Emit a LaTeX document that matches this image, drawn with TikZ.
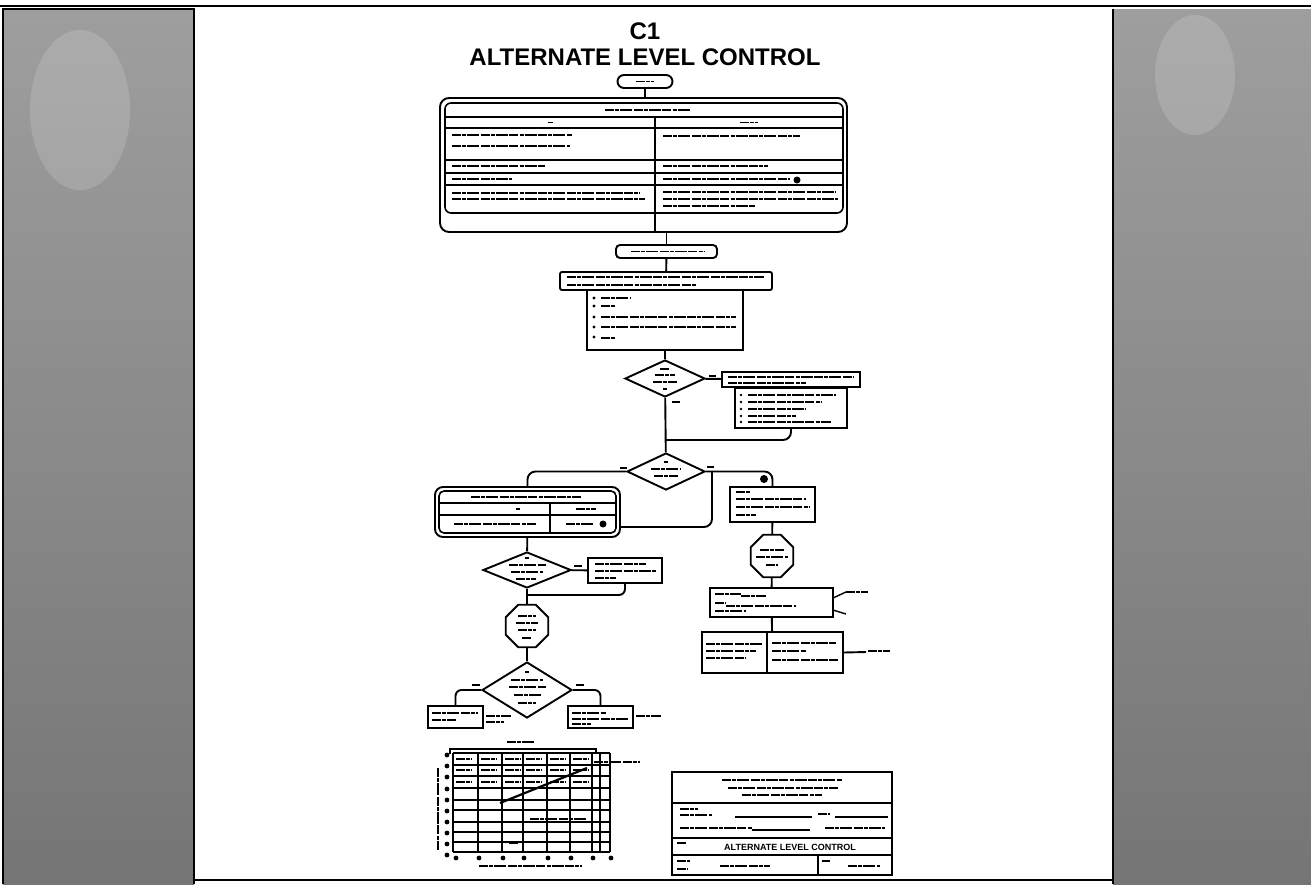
\documentclass[tikz,border=0pt]{standalone}
\usepackage{fontspec}
\setmainfont{Liberation Sans}
\usetikzlibrary{shapes.geometric}

% blurred copy text is drawn as dark strokes
\newcommand{\smear}[3]{\draw[smudge] (#1,#2) -- (#3,#2);}
\newcommand{\smeart}[3]{\draw[smudge,line width=1.8pt] (#1,#2) -- (#3,#2);}

\tikzset{
  flow/.style={line width=1.9pt},
  stepbox/.style={draw, line width=1.9pt, fill=white, inner sep=0pt},
  roundbox/.style={stepbox, rounded corners=6pt},
  decision/.style={stepbox, diamond},
  hold/.style={stepbox, regular polygon, regular polygon sides=8},
  smudge/.style={line width=2.6pt, black, dash pattern=on 9pt off 1.2pt on 4pt off 1pt on 12pt off 1.5pt},
  gridrule/.style={line width=2pt},
  panel/.style={top color=black!38, bottom color=black!54},
  headfont/.style={font=\bfseries\fontsize{24}{26}\selectfont},
}

\begin{document}
\begin{tikzpicture}[x=1pt,y=-1pt]
\useasboundingbox (0,0) rectangle (1311,884);

% side panels and frame
\shade[panel] (3,9) rectangle (194,884);
\shade[panel] (1113,9) rectangle (1311,884);
\fill[white,opacity=0.15] (80,110) ellipse (50 and 80);
\fill[white,opacity=0.15] (1195,75) ellipse (40 and 60);
\draw[line width=2pt] (3,884) -- (3,9) -- (194,9) -- (194,884);
\draw[line width=2pt] (1113,884) -- (1113,9);
\draw[line width=2pt] (0,6) -- (1311,6);
\draw[line width=2pt] (194,880) -- (1113,880);

% heading
\node[headfont] (code) at (645,31) {C1};
\node[headfont] (title) at (645,57) {ALTERNATE LEVEL CONTROL};

% main column
\node[roundbox, rounded corners=6.5pt, minimum width=55pt, minimum height=13pt] (start) at (645,81.5) {};
\smeart{636}{81.5}{654}

\node[roundbox, rounded corners=9pt, minimum width=407pt, minimum height=134pt] (rules) at (643.5,165) {};
\draw[line width=1.6pt, rounded corners=6pt] (445,103) rectangle (843,213);
\foreach \y in {117,128,160,173,185}
    \draw[line width=1.6pt] (445,\y) -- (843,\y);
\draw[line width=1.6pt] (655,117) -- (655,232);
\smeart{605}{110}{690}
\smeart{548}{122.5}{553} \smeart{740}{122.5}{758}
\smear{452}{135}{572} \smear{452}{146}{570} \smear{663}{136}{800}
\smear{452}{166}{545} \smear{663}{166}{768}
\smear{452}{179}{512} \smear{663}{179}{790}
\fill (797,180) circle (3.5);
\smear{452}{193}{640} \smear{452}{199}{645}
\smear{663}{192}{836} \smear{663}{199}{838} \smear{663}{206}{755}
\draw[flow] (start) -- (start |- rules.north);

\node[roundbox, rounded corners=4pt, minimum width=101pt, minimum height=13pt] (verify) at (666.5,251.5) {};
\smeart{631}{251.5}{704}
\draw[flow] (rules.south -| verify) -- (verify);

\node[stepbox, minimum width=156pt, minimum height=60pt] (checks) at (665,320) {};
\node[stepbox, rounded corners=2pt, minimum width=212pt, minimum height=18pt] (goto) at (666,281) {};
\smear{567}{277}{764} \smear{567}{285}{696}
\draw[flow] (verify) -- (goto);
\foreach \y in {298,306,317,327,337}
    \fill (594,\y) circle (1.6);
\smeart{601}{298}{630} \smear{601}{306}{615} \smear{601}{317}{736}
\smear{601}{327}{736} \smear{601}{338}{615}

\node[decision, minimum width=80pt, minimum height=37pt] (level) at (665,378.5) {};
\smeart{660}{369}{670} \smeart{655}{375}{675} \smear{653}{382}{677} \smeart{663}{389}{667}
\draw[flow] (checks) -- (level);
\smeart{709}{376}{716}
\smeart{672}{402}{680}

\node[stepbox, minimum width=138pt, minimum height=15pt] (raise) at (791,379.5) {};
\node[stepbox, minimum width=112pt, minimum height=40pt] (fix) at (791,408) {};
\smear{728}{377}{854} \smeart{728}{383}{806}
\foreach \y in {395,402,409,416,422}
    \fill (741,\y) circle (1.4);
\smeart{748}{395}{836} \smear{748}{402}{821} \smeart{748}{409}{806}
\smeart{748}{416}{796} \smear{748}{422}{831}
\draw[flow] (level) -- (raise);
\coordinate (back1) at (666,440);
\draw[flow, rounded corners=8pt] (fix.south) |- (back1);

\node[decision, minimum width=78pt, minimum height=37pt] (mode) at (666,471.5) {};
\smeart{664}{462}{668} \smeart{651}{469}{681} \smeart{654}{476}{678}
\draw[flow] (level) -- (mode);
\smeart{620}{468}{627} \smeart{707}{467}{714}

% left branch
\node[roundbox, rounded corners=8pt, minimum width=185pt, minimum height=50pt] (manual) at (527.5,512) {};
\draw[line width=1.6pt, rounded corners=5pt] (439,491) rectangle (616,533);
\draw[line width=1.6pt] (439,503) -- (616,503) (439,515) -- (616,515) (550,503) -- (550,533);
\smeart{471}{497}{581}
\smeart{516}{509}{520} \smeart{576}{509}{596}
\smear{454}{524}{536} \smear{566}{524}{594}
\fill (603,524) circle (3.5);
\draw[flow, rounded corners=8pt] (mode.west) -| (manual.north);

% right branch
\node[stepbox, minimum width=85pt, minimum height=35pt] (bypass) at (772.5,504.5) {};
\smear{736}{492}{751} \smeart{736}{499}{806} \smear{736}{507}{809} \smeart{736}{515}{756}
\draw[flow, rounded corners=8pt] (mode.east) -| (bypass.north);
\fill (764,479) circle (4);
\coordinate (rtn) at (620,527);
\coordinate (join) at (712,471.5);
\draw[flow, rounded corners=8pt] (rtn) -| (join);

\node[decision, minimum width=88pt, minimum height=36pt] (flowchk) at (527,570) {};
\smeart{525}{558}{529} \smear{509}{565}{546} \smeart{511}{572}{543} \smeart{516}{579}{536}
\draw[flow] (manual) -- (flowchk);
\node[stepbox, minimum width=74pt, minimum height=25pt] (adjust) at (625,570.5) {};
\smear{595}{564}{646} \smeart{595}{571}{656} \smeart{595}{578}{616}
\draw[flow] (flowchk) -- (adjust);
\smeart{574}{566}{582}
\coordinate (back3) at (527,595);
\draw[flow, rounded corners=6pt] (adjust.south) |- (back3);

\node[hold, minimum size=46pt] (holdL) at (527,626) {};
\smeart{518}{616}{536} \smeart{516}{623}{538} \smear{518}{630}{536} \smeart{522}{638}{532}
\draw[flow] (flowchk) -- (holdL);

\node[decision, minimum width=90pt, minimum height=56pt] (inject) at (527,690) {};
\smeart{525}{672}{529} \smeart{511}{680}{543} \smear{509}{687}{546} \smeart{514}{695}{541} \smeart{518}{703}{536}
\draw[flow] (holdL) -- (inject);
\smeart{472}{685}{480} \smeart{576}{685}{584}

\node[stepbox, minimum width=55pt, minimum height=22pt] (outA) at (455.5,717) {};
\node[stepbox, minimum width=65pt, minimum height=22pt] (outB) at (600.5,717) {};
\smear{432}{713}{478} \smeart{432}{720}{456}
\smeart{572}{713}{606} \smeart{572}{719}{628} \smeart{572}{724}{591}
\smeart{486}{716}{511} \smeart{486}{722}{504}
\smeart{636}{716}{661}
\draw[flow, rounded corners=6pt] (inject.west) -| (outA.north);
\draw[flow, rounded corners=6pt] (inject.east) -| (outB.north);

% right column
\node[hold, minimum size=46pt] (holdR) at (772,556) {};
\smear{760}{550}{784} \smeart{756}{557}{788} \smeart{766}{565}{778}
\draw[flow] (bypass) -- (holdR);

\node[stepbox, minimum width=123pt, minimum height=29pt] (restore) at (771.5,602.5) {};
\smear{715}{594}{741} \smeart{741}{596}{766} \smeart{715}{603}{726}
\smeart{726}{606}{796} \smeart{715}{611}{746}
\draw[line width=1.4pt] (833,598) -- (846,592) (833,610) -- (846,614);
\smeart{846}{592}{868}
\draw[flow] (holdR) -- (restore);

\node[stepbox, minimum width=141pt, minimum height=41pt] (final) at (772.5,652.5) {};
\draw[line width=1.9pt] (767,632) -- (767,673);
\smeart{706}{644}{762} \smeart{706}{651}{756} \smeart{706}{658}{746}
\smear{772}{643}{836} \smeart{772}{651}{806} \smear{772}{660}{838}
\draw[flow] (restore) -- (final);
\coordinate (toC) at (866,652);
\draw[flow] (final.east) -- (toC);
\smeart{868}{651}{890}

% level graph
\smeart{507}{742}{534}
\draw[line width=1.4pt] (450,754) -- (450,749) -- (596,749) -- (596,754);
\smeart{454}{749}{592}
\foreach \x in {453,478,502,523,547,570,592,600,610}
    \draw[gridrule] (\x,753) -- (\x,852);
\foreach \y in {753,765,776,788,800,810,822,832,842,852}
    \draw[gridrule] (453,\y) -- (610,\y);
\foreach \x in {453,478,502,523,547,570} {
    \foreach \y in {759,770,782} {
        \smeart{\x+3}{\y}{\x+19}
    }
}
\foreach \y in {755,766,777,789,800,811,822,833,844,855}
    \fill (447,\y) circle (2.4);
\foreach \x in {456,479,503,524,548,571,593,611}
    \fill (\x,858) circle (2.4);
\draw[smudge, line width=1.8pt] (438,768) -- (438,850);
\smeart{479}{866}{582}
\draw[line width=2.2pt] (500,803) -- (587,768);
\smear{594}{762}{640}
\smear{530}{819}{587}
\smeart{509}{843}{519}

% title block
\node[stepbox, minimum width=220pt, minimum height=103pt] (sign) at (782,823.5) {};
\draw[line width=1.8pt] (672,803) -- (892,803) (672,838) -- (892,838) (672,855) -- (892,855) (818,855) -- (818,875);
\smeart{722}{780}{842} \smeart{728}{788}{838} \smeart{742}{795}{822}
\smeart{680}{809}{698} \smeart{680}{815}{712}
\draw[line width=1.4pt] (735,817) -- (812,817) (835,817) -- (888,817) (752,830) -- (810,830);
\smeart{818}{814}{830} \smeart{680}{828}{752} \smeart{825}{828}{885}
\smeart{677}{843}{686}
\node[font=\bfseries\fontsize{9}{9}\selectfont] (name) at (790,847) {ALTERNATE LEVEL CONTROL};
\smeart{677}{861}{690} \smeart{677}{869}{688} \smeart{720}{866}{770}
\smeart{822}{861}{830} \smeart{848}{866}{880}
\end{tikzpicture}
\end{document}
